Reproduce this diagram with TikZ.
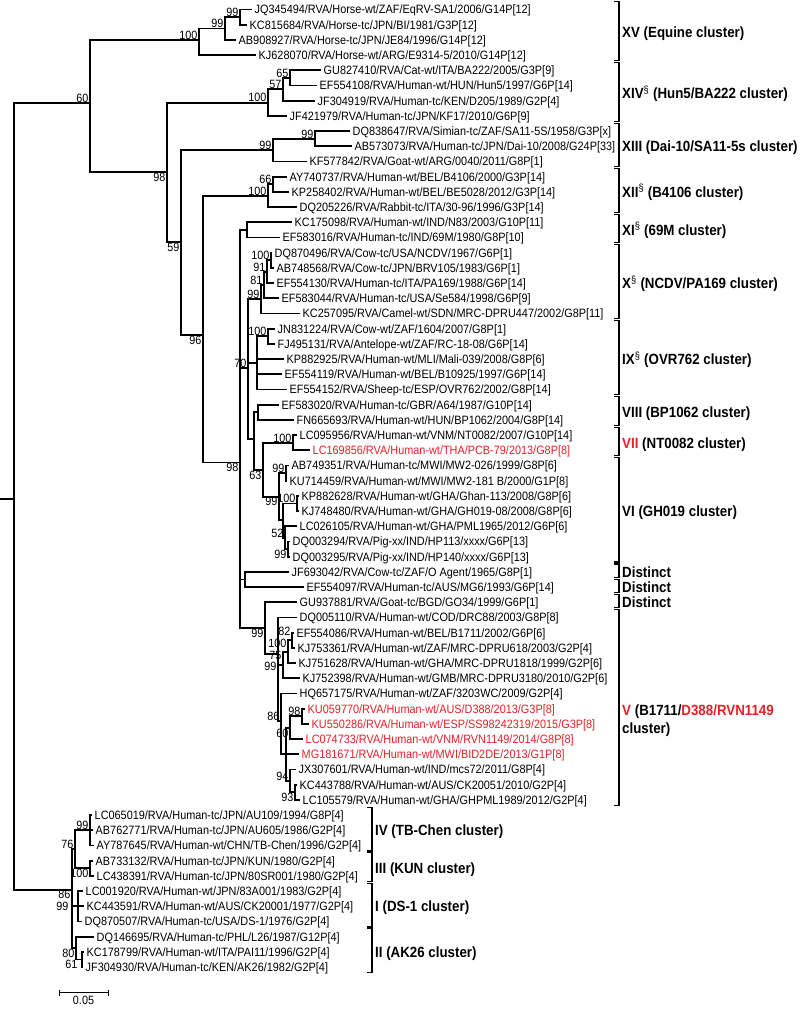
\documentclass[tikz,border=0pt]{standalone}
\usepackage{fontspec}
\setmainfont{Liberation Sans}[FakeStretch=0.9]
\usepackage{xcolor}
\usetikzlibrary{positioning,calc}
\definecolor{hired}{RGB}{230,32,40}
\newcommand{\leaffont}{\fontsize{12.1}{14}\selectfont}
\newcommand{\supfont}{\fontsize{12}{12}\selectfont}
\newcommand{\clufont}{\fontsize{14.8}{18}\selectfont\bfseries}
\begin{document}
\begin{tikzpicture}[x=1pt, y=-15.2pt,
    br/.style={line width=1.9pt},
    bkt/.style={line width=1.3pt},
    leaf/.style={anchor=west, inner xsep=2.5pt, inner ysep=0pt, text height=8.7pt, text depth=0pt, font=\leaffont},
    bs/.style={inner sep=0.5pt, text height=8.6pt, text depth=0pt, font=\supfont},
    clu/.style={anchor=west, inner sep=0pt, text height=10.6pt, text depth=0pt, font=\clufont}]
    \useasboundingbox (0,0.375) rectangle (800,66.82);

    % leaves (y = row)
    \node[leaf] (l1) at (252,1) {JQ345494/RVA/Horse-wt/ZAF/EqRV-SA1/2006/G14P[12]};
    \node[leaf] (l2) at (247,2) {KC815684/RVA/Horse-tc/JPN/BI/1981/G3P[12]};
    \node[leaf] (l3) at (236,3) {AB908927/RVA/Horse-tc/JPN/JE84/1996/G14P[12]};
    \node[leaf] (l4) at (256,4) {KJ628070/RVA/Horse-wt/ARG/E9314-5/2010/G14P[12]};
    \node[leaf] (l5) at (321,5) {GU827410/RVA/Cat-wt/ITA/BA222/2005/G3P[9]};
    \node[leaf] (l6) at (317,6) {EF554108/RVA/Human-wt/HUN/Hun5/1997/G6P[14]};
    \node[leaf] (l7) at (315,7) {JF304919/RVA/Human-tc/KEN/D205/1989/G2P[4]};
    \node[leaf] (l8) at (287,8) {JF421979/RVA/Human-tc/JPN/KF17/2010/G6P[9]};
    \node[leaf] (l9) at (350,9) {DQ838647/RVA/Simian-tc/ZAF/SA11-5S/1958/G3P[x]};
    \node[leaf] (l10) at (352,10) {AB573073/RVA/Human-tc/JPN/Dai-10/2008/G24P[33]};
    \node[leaf] (l11) at (307,11) {KF577842/RVA/Goat-wt/ARG/0040/2011/G8P[1]};
    \node[leaf] (l12) at (287,12) {AY740737/RVA/Human-wt/BEL/B4106/2000/G3P[14]};
    \node[leaf] (l13) at (289,13) {KP258402/RVA/Human-wt/BEL/BE5028/2012/G3P[14]};
    \node[leaf] (l14) at (297,14) {DQ205226/RVA/Rabbit-tc/ITA/30-96/1996/G3P[14]};
    \node[leaf] (l15) at (292,15) {KC175098/RVA/Human-wt/IND/N83/2003/G10P[11]};
    \node[leaf] (l16) at (280,16) {EF583016/RVA/Human-tc/IND/69M/1980/G8P[10]};
    \node[leaf] (l17) at (272,17) {DQ870496/RVA/Cow-tc/USA/NCDV/1967/G6P[1]};
    \node[leaf] (l18) at (274,18) {AB748568/RVA/Cow-tc/JPN/BRV105/1983/G6P[1]};
    \node[leaf] (l19) at (274,19) {EF554130/RVA/Human-tc/ITA/PA169/1988/G6P[14]};
    \node[leaf] (l20) at (279,20) {EF583044/RVA/Human-tc/USA/Se584/1998/G6P[9]};
    \node[leaf] (l21) at (300,21) {KC257095/RVA/Camel-wt/SDN/MRC-DPRU447/2002/G8P[11]};
    \node[leaf] (l22) at (275,22) {JN831224/RVA/Cow-wt/ZAF/1604/2007/G8P[1]};
    \node[leaf] (l23) at (275,23) {FJ495131/RVA/Antelope-wt/ZAF/RC-18-08/G6P[14]};
    \node[leaf] (l24) at (284,24) {KP882925/RVA/Human-wt/MLI/Mali-039/2008/G8P[6]};
    \node[leaf] (l25) at (282,25) {EF554119/RVA/Human-wt/BEL/B10925/1997/G6P[14]};
    \node[leaf] (l26) at (287,26) {EF554152/RVA/Sheep-tc/ESP/OVR762/2002/G8P[14]};
    \node[leaf] (l27) at (279,27) {EF583020/RVA/Human-tc/GBR/A64/1987/G10P[14]};
    \node[leaf] (l28) at (294,28) {FN665693/RVA/Human-wt/HUN/BP1062/2004/G8P[14]};
    \node[leaf] (l29) at (297,29) {LC095956/RVA/Human-wt/VNM/NT0082/2007/G10P[14]};
    \node[leaf, text=hired] (l30) at (310,30) {LC169856/RVA/Human-wt/THA/PCB-79/2013/G8P[8]};
    \node[leaf] (l31) at (289,31) {AB749351/RVA/Human-tc/MWI/MW2-026/1999/G8P[6]};
    \node[leaf] (l32) at (287,32) {KU714459/RVA/Human-wt/MWI/MW2-181 B/2000/G1P[8]};
    \node[leaf] (l33) at (299,33) {KP882628/RVA/Human-wt/GHA/Ghan-113/2008/G8P[6]};
    \node[leaf] (l34) at (299,34) {KJ748480/RVA/Human-wt/GHA/GH019-08/2008/G8P[6]};
    \node[leaf] (l35) at (297,35) {LC026105/RVA/Human-wt/GHA/PML1965/2012/G6P[6]};
    \node[leaf] (l36) at (290,36) {DQ003294/RVA/Pig-xx/IND/HP113/xxxx/G6P[13]};
    \node[leaf] (l37) at (290,37) {DQ003295/RVA/Pig-xx/IND/HP140/xxxx/G6P[13]};
    \node[leaf] (l38) at (289,38) {JF693042/RVA/Cow-tc/ZAF/O Agent/1965/G8P[1]};
    \node[leaf] (l39) at (304,39) {EF554097/RVA/Human-tc/AUS/MG6/1993/G6P[14]};
    \node[leaf] (l40) at (297,40) {GU937881/RVA/Goat-tc/BGD/GO34/1999/G6P[1]};
    \node[leaf] (l41) at (297,41) {DQ005110/RVA/Human-wt/COD/DRC88/2003/G8P[8]};
    \node[leaf] (l42) at (294,42) {EF554086/RVA/Human-wt/BEL/B1711/2002/G6P[6]};
    \node[leaf] (l43) at (295,43) {KJ753361/RVA/Human-wt/ZAF/MRC-DPRU618/2003/G2P[4]};
    \node[leaf] (l44) at (296,44) {KJ751628/RVA/Human-wt/GHA/MRC-DPRU1818/1999/G2P[6]};
    \node[leaf] (l45) at (300,45) {KJ752398/RVA/Human-wt/GMB/MRC-DPRU3180/2010/G2P[6]};
    \node[leaf] (l46) at (297,46) {HQ657175/RVA/Human-wt/ZAF/3203WC/2009/G2P[4]};
    \node[leaf, text=hired] (l47) at (305,47) {KU059770/RVA/Human-wt/AUS/D388/2013/G3P[8]};
    \node[leaf, text=hired] (l48) at (309,48) {KU550286/RVA/Human-wt/ESP/SS98242319/2015/G3P[8]};
    \node[leaf, text=hired] (l49) at (303,49) {LC074733/RVA/Human-wt/VNM/RVN1149/2014/G8P[8]};
    \node[leaf, text=hired] (l50) at (299,50) {MG181671/RVA/Human-wt/MWI/BID2DE/2013/G1P[8]};
    \node[leaf] (l51) at (296,51) {JX307601/RVA/Human-wt/IND/mcs72/2011/G8P[4]};
    \node[leaf] (l52) at (297,52) {KC443788/RVA/Human-wt/AUS/CK20051/2010/G2P[4]};
    \node[leaf] (l53) at (300,53) {LC105579/RVA/Human-wt/GHA/GHPML1989/2012/G2P[4]};
    \node[leaf] (l54) at (92,54) {LC065019/RVA/Human-tc/JPN/AU109/1994/G8P[4]};
    \node[leaf] (l55) at (93,55) {AB762771/RVA/Human-tc/JPN/AU605/1986/G2P[4]};
    \node[leaf] (l56) at (94,56) {AY787645/RVA/Human-wt/CHN/TB-Chen/1996/G2P[4]};
    \node[leaf] (l57) at (93,57) {AB733132/RVA/Human-tc/JPN/KUN/1980/G2P[4]};
    \node[leaf] (l58) at (94,58) {LC438391/RVA/Human-tc/JPN/80SR001/1980/G2P[4]};
    \node[leaf] (l59) at (83,59) {LC001920/RVA/Human-wt/JPN/83A001/1983/G2P[4]};
    \node[leaf] (l60) at (84,60) {KC443591/RVA/Human-wt/AUS/CK20001/1977/G2P[4]};
    \node[leaf] (l61) at (82,61) {DQ870507/RVA/Human-tc/USA/DS-1/1976/G2P[4]};
    \node[leaf] (l62) at (94,62) {DQ146695/RVA/Human-tc/PHL/L26/1987/G12P[4]};
    \node[leaf] (l63) at (84,63) {KC178799/RVA/Human-wt/ITA/PAI11/1996/G2P[4]};
    \node[leaf] (l64) at (83,64) {JF304930/RVA/Human-tc/KEN/AK26/1982/G2P[4]};

    % inner nodes
    \coordinate (stub) at (0,33.2);
    \coordinate (root) at (14,33.2);
    \coordinate (n60) at (90,7.15);
    \coordinate (nEq) at (199,3);
    \coordinate (n99a) at (225,2.25);
    \coordinate (n99b) at (240,1.5);
    \coordinate (n98a) at (167,11.7);
    \coordinate (nXIV) at (268,7.125);
    \coordinate (n57) at (283,6.25);
    \coordinate (n65) at (290,5.5);
    \coordinate (n59) at (181,16.3);
    \coordinate (nXIII) at (273,10.25);
    \coordinate (n99c) at (315,9.5);
    \coordinate (n96) at (203,22.4);
    \coordinate (nXII) at (268,13.25);
    \coordinate (n66) at (273,12.5);
    \coordinate (n98b) at (240,30.8);
    \coordinate (nXI) at (247,15.5);
    \coordinate (n70) at (248,24.6);
    \coordinate (nX) at (261,20.06);
    \coordinate (nX81) at (264,19.125);
    \coordinate (nX91) at (267,18.25);
    \coordinate (nX100) at (271,17.5);
    \coordinate (nIX) at (257,24.25);
    \coordinate (nIX100) at (268,22.5);
    \coordinate (nMid) at (254,29.25);
    \coordinate (nVIII) at (258,27.5);
    \coordinate (n63) at (263,31.3);
    \coordinate (nVII) at (293,29.5);
    \coordinate (nVI) at (279,33.05);
    \coordinate (nVIa) at (286,31.5);
    \coordinate (nVIb) at (283,34.6);
    \coordinate (nKP) at (297,33.5);
    \coordinate (n52) at (285,35.75);
    \coordinate (nPig) at (288,36.5);
    \coordinate (nDA) at (245,38.5);
    \coordinate (n99V) at (265,41.7);
    \coordinate (nV1) at (278,43.4);
    \coordinate (nV75) at (283,44.1);
    \coordinate (nV100) at (288,43.25);
    \coordinate (nV82) at (292,42.5);
    \coordinate (nV86) at (281,47.8);
    \coordinate (nV94) at (286,50);
    \coordinate (nV60) at (290,48.25);
    \coordinate (nV98) at (302,47.5);
    \coordinate (nV93b) at (290,51.75);
    \coordinate (nV93) at (295,52.5);
    \coordinate (nB) at (72,58.9);
    \coordinate (n76) at (75,56.25);
    \coordinate (nIV) at (90,55);
    \coordinate (nKUN) at (90,57.5);
    \coordinate (nDS1) at (78,60);
    \coordinate (nII) at (76,62.75);
    \coordinate (n61) at (82,63.5);

    % branches
    \draw[br] (stub) -- (root);
    \foreach \p/\c in {root/n60, root/nB, n60/nEq, n60/n98a, nEq/n99a, nEq/l4,
        n99a/n99b, n99a/l3, n99b/l1, n99b/l2, n98a/nXIV, n98a/n59,
        nXIV/n57, nXIV/l8, n57/n65, n57/l7, n65/l5, n65/l6,
        n59/nXIII, n59/n96, nXIII/n99c, nXIII/l11, n99c/l9, n99c/l10,
        n96/nXII, n96/n98b, nXII/n66, nXII/l14, n66/l12, n66/l13}
        \draw[br] (\p) |- (\c);
    \foreach \p/\c in {n98b/nXI, n98b/n70, n98b/nDA, n98b/n99V, nXI/l15, nXI/l16,
        n70/nX, n70/nIX, n70/nMid, nX/nX81, nX/l21, nX81/nX91, nX81/l20,
        nX91/nX100, nX91/l19, nX100/l17, nX100/l18,
        nIX/nIX100, nIX/l24, nIX/l25, nIX/l26, nIX100/l22, nIX100/l23,
        nMid/nVIII, nMid/n63, nVIII/l27, nVIII/l28, n63/nVII, n63/nVI,
        nVII/l29, nVII/l30, nVI/nVIa, nVI/nVIb, nVIa/l31, nVIa/l32,
        nVIb/nKP, nVIb/n52, nKP/l33, nKP/l34, n52/l35, n52/nPig,
        nPig/l36, nPig/l37, nDA/l38, nDA/l39}
        \draw[br] (\p) |- (\c);
    \foreach \p/\c in {n99V/l40, n99V/nV1, nV1/l41, nV1/nV75, nV1/nV86,
        nV75/nV100, nV75/l45, nV100/nV82, nV100/l44, nV82/l42, nV82/l43,
        nV86/l46, nV86/nV94, nV94/nV60, nV94/l50, nV94/nV93b,
        nV60/nV98, nV60/l49, nV98/l47, nV98/l48, nV93b/l51, nV93b/nV93,
        nV93/l52, nV93/l53,
        nB/n76, nB/nDS1, nB/nII, n76/nIV, n76/nKUN, nIV/l54, nIV/l55, nIV/l56,
        nKUN/l57, nKUN/l58, nDS1/l59, nDS1/l60, nDS1/l61,
        nII/l62, nII/n61, n61/l63, n61/l64}
        \draw[br] (\p) |- (\c);

    % bootstrap values
    \foreach \n/\v in {n99b/99, n99a/99, nEq/100, n60/60, n65/65, n57/57, nXIV/100,
        n99c/99, nXIII/99, n66/66, nXII/100, nX100/100, nX91/91, nX81/81, nX/99,
        nIX100/100, n70/70, nVII/100, nVIa/99, nKP/100, n52/52,
        nV86/86, nV98/98, nV93b/94, nIV/99, n76/76}
        \node[bs, anchor=south east] (s\n) at ([xshift=-1pt]\n) {\v};
    \foreach \n/\v in {n98a/98, n59/59, n96/96, n98b/98, n63/63, nVI/99, nPig/99,
        n99V/99, nV60/60, nV93/93, nKUN/100, nB/86, nII/80}
        \node[bs, anchor=north east] (s\n) at ([xshift=-1pt]\n) {\v};
    \node[bs, anchor=south east] (snV82) at ([xshift=-1pt,yshift=4pt]nV82) {82};
    \node[bs, anchor=south east] (snV100) at ([xshift=-1pt,yshift=4pt]nV100) {100};
    \node[bs, anchor=south east] (snV75) at ([xshift=-1pt,yshift=4.5pt]nV75) {75};
    \node[bs, anchor=north east] (snV1) at ([xshift=-1pt,yshift=-7pt]nV1) {99};
    \node[bs, anchor=east] (snDS1) at ([xshift=-9pt]nDS1) {99};
    \node[bs, anchor=north east] (sn61) at ([xshift=-4pt]n61) {61};

    % cluster brackets
    \foreach \ra/\rb in {1/4, 5/8, 9/11, 12/14, 15/16, 17/21, 22/26, 27/28, 29/30,
        31/37, 38/38, 39/39, 40/40, 41/53}
        \draw[bkt] (614,{\ra-0.52}) -- (619,{\ra-0.52}) -- (619,{\rb+0.35}) -- (614,{\rb+0.35});
    \foreach \ra/\rb in {54/56, 57/58, 59/61, 62/64}
        \draw[bkt] (367,{\ra-0.52}) -- (372,{\ra-0.52}) -- (372,{\rb+0.35}) -- (367,{\rb+0.35});

    \node[clu] (cXV) at (622,2.5) {XV (Equine cluster)};
    \node[clu] (cXIV) at (622,6.5) {XIV\textsuperscript{\mdseries §} (Hun5/BA222 cluster)};
    \node[clu] (cXIII) at (622,10) {XIII (Dai-10/SA11-5s cluster)};
    \node[clu] (cXII) at (622,13) {XII\textsuperscript{\mdseries §} (B4106 cluster)};
    \node[clu] (cXI) at (622,15.5) {XI\textsuperscript{\mdseries §} (69M cluster)};
    \node[clu] (cX) at (622,19) {X\textsuperscript{\mdseries §} (NCDV/PA169 cluster)};
    \node[clu] (cIX) at (622,24) {IX\textsuperscript{\mdseries §} (OVR762 cluster)};
    \node[clu] (cVIII) at (622,27.5) {VIII (BP1062 cluster)};
    \node[clu] (cVII) at (622,29.5) {\textcolor{hired}{VII} (NT0082 cluster)};
    \node[clu] (cVI) at (622,34) {VI (GH019 cluster)};
    \node[clu] (cD1) at (622,38) {Distinct};
    \node[clu] (cD2) at (622,39) {Distinct};
    \node[clu] (cD3) at (622,40) {Distinct};
    \node[font=\clufont, inner sep=0pt, anchor=north west, align=left] (cV) at (622,46.74)
        {\textcolor{hired}{V} (B1711/\textcolor{hired}{D388/RVN1149}\\cluster)};
    \node[clu] (cIV) at (375,55) {IV (TB-Chen cluster)};
    \node[clu] (cIII) at (375,57.5) {III (KUN cluster)};
    \node[clu] (cI) at (375,60) {I (DS-1 cluster)};
    \node[clu] (cII) at (375,63) {II (AK26 cluster)};

    % scale bar
    \coordinate (sbL) at (59,65.7);
    \coordinate (sbR) at (108,65.7);
    \draw[line width=1pt] (sbL) -- (sbR);
    \draw[line width=1pt] ([yshift=3pt]sbL) -- ([yshift=-3pt]sbL);
    \draw[line width=1pt] ([yshift=3pt]sbR) -- ([yshift=-3pt]sbR);
    \node[bs, below=2pt of $(sbL)!.5!(sbR)$] (sbt) {0.05};
\end{tikzpicture}
\end{document}
